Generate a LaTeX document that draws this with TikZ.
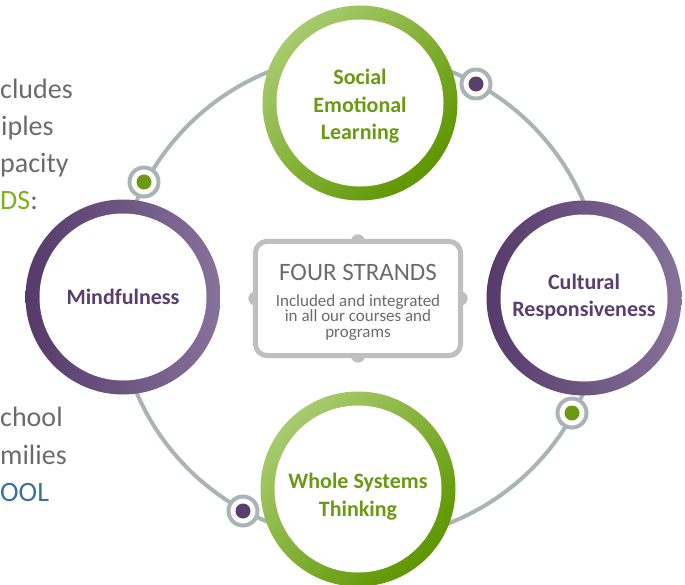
\documentclass[tikz,border=0pt]{standalone}
\usepackage{fontspec}
\setmainfont{Carlito}
\usepackage{xcolor}
\usetikzlibrary{positioning}

\definecolor{loopgray}{HTML}{A9B4B6}
\definecolor{framegray}{HTML}{BFBFBF}
\definecolor{textgray}{HTML}{6B6B6B}
\definecolor{selgreen}{HTML}{6A9A12}
\definecolor{greenlight}{HTML}{A8CB6E}
\definecolor{greendark}{HTML}{5E9600}
\definecolor{purpdark}{HTML}{553A6A}
\definecolor{purplight}{HTML}{87729B}
\definecolor{strandpurple}{HTML}{5A3E6E}
\definecolor{brightgreen}{HTML}{7AB31E}
\definecolor{linkblue}{HTML}{3A6EA5}

\tikzset{
  greenring/.style={top color=greenlight, bottom color=greendark, shading angle=45},
  purplering/.style={left color=purpdark, right color=purplight},
  marker/.style={circle, draw=loopgray, line width=4, fill=white, minimum size=29, inner sep=0},
  strand/.style={align=center, inner sep=0, font=\bfseries\fontsize{22}{27.7}\selectfont},
  sidetext/.style={anchor=base west, inner sep=0, text=textgray, font=\fontsize{28}{34}\selectfont},
}

\begin{document}
\begin{tikzpicture}[x=1pt, y=-1pt]
      \useasboundingbox (0,0) rectangle (685,584);
      \clip (0,0) rectangle (685,584);
      %\draw [dotted] (0,0) grid [step=50] (685,584);
      \coordinate (hub)  at (360, 297);
      \coordinate (selc) at (360, 103);
      \coordinate (minc) at (123, 297);
      \coordinate (culc) at (584, 298);
      \coordinate (wsc)  at (358, 489);
      % loop behind the four strands
      \draw [loopgray, line width=4] (hub) circle (243);
      \node [marker] (m1) at (144, 182) {};
      \node [marker] (m2) at (476,  84) {};
      \node [marker] (m3) at (572, 413) {};
      \node [marker] (m4) at (243, 511) {};
      \fill [selgreen]     (m1) circle (7.5);
      \fill [strandpurple] (m2) circle (7.5);
      \fill [selgreen]     (m3) circle (7.5);
      \fill [strandpurple] (m4) circle (7.5);
      % rings
      \shade [greenring]  (selc) circle (97.5);
      \fill  [white]      (selc) circle (83.5);
      \shade [purplering] (minc) circle (97.5);
      \fill  [white]      (minc) circle (83.5);
      \shade [purplering] (culc) circle (97.5);
      \fill  [white]      (culc) circle (83.5);
      \shade [greenring]  (wsc)  circle (97.5);
      \fill  [white]      (wsc)  circle (83.5);
      \node [strand, text=selgreen]     (sel) at (360, 106.2) {Social\\Emotional\\Learning};
      \node [strand, text=strandpurple] (min) at (123, 297.3) {Mindfulness};
      \node [strand, text=strandpurple] (cul) at (584, 296.9) {Cultural\\Responsiveness};
      \node [strand, text=selgreen]     (ws)  at (358, 496.5) {Whole Systems\\Thinking};
      % centre box
      \node [minimum width=205, minimum height=114, inner sep=0] (box) at (358, 298.5) {};
      \fill [framegray] (box.north) circle (7);
      \fill [framegray] (box.south) circle (7);
      \fill [framegray] (box.west)  circle (7);
      \fill [framegray] (box.east)  circle (7);
      \draw [framegray, line width=5, fill=white, rounded corners=12] (box.north west) rectangle (box.south east);
      \node [inner sep=0, text=textgray, font=\fontsize{25}{30}\selectfont] (four) at (358, 272) {FOUR STRANDS};
      \node [inner sep=0, text=textgray, align=center, font=\fontsize{17}{15.5}\selectfont] (incl) at (358, 317.5)
            {Included and integrated\\in all our courses and\\programs};
      % clipped text on the left
      \node [sidetext] (t1) at (0,  98) {cludes};
      \node [sidetext] (t2) at (1, 135) {iples};
      \node [sidetext] (t3) at (0, 172) {pacity};
      \node [sidetext] (t4) at (0, 209) {\textcolor{brightgreen}{DS}:};
      \node [sidetext] (t5) at (0, 426) {chool};
      \node [sidetext] (t6) at (0, 464) {milies};
      \node [sidetext] (t7) at (0, 501) {\textcolor{linkblue}{OOL}};
\end{tikzpicture}
\end{document}
